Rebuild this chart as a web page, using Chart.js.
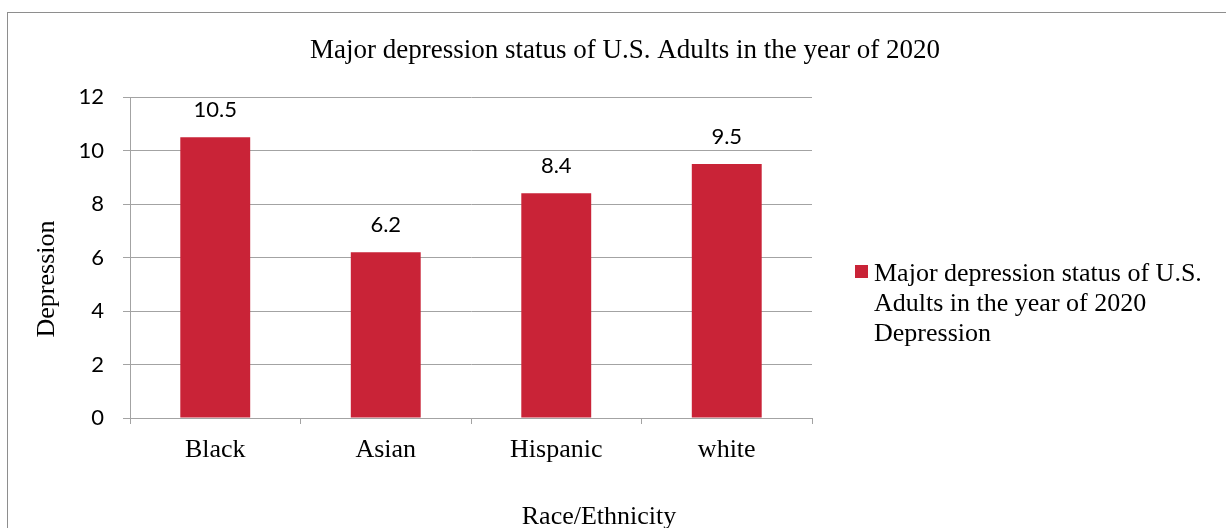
<!DOCTYPE html>
<html>
<head>
<meta charset="utf-8">
<script src="https://cdn.jsdelivr.net/npm/chart.js@4.4.1/dist/chart.umd.min.js"></script>
<style>
  html, body { margin: 0; padding: 0; background: #fff; }
  #wrap { width: 1226px; height: 528px; position: relative; }
</style>
</head>
<body>
<div id="wrap"><canvas id="myChart"></canvas></div>
<script>
// datos del gráfico
const categories = ['Black', 'Asian', 'Hispanic', 'white'];
const depressionValues = [10.5, 6.2, 8.4, 9.5];
const yTickValues = [0, 2, 4, 6, 8, 10, 12];
const chartTitle = 'Major depression status of U.S. Adults in the year of 2020';
const seriesLabel = 'Major depression status of U.S. Adults in the year of 2020 Depression';
const legendLines = ['Major depression status of U.S.', 'Adults in the year of 2020', 'Depression'];
const xAxisTitle = 'Race/Ethnicity';
const yAxisTitle = 'Depression';

const barColor = '#C92337';
const gridColor = '#a3a3a3';
const serif = '"Liberation Serif", "Times New Roman", serif';
const sans = 'Lato, "Open Sans", sans-serif';

// marco, títulos, leyenda y etiquetas de valor
const decorations = {
    id: 'decorations',
    beforeDraw(chart) {
        const ctx = chart.ctx;
        ctx.save();
        ctx.fillStyle = '#fff';
        ctx.fillRect(0, 0, chart.width, chart.height);
        ctx.strokeStyle = '#8e8e8e';
        ctx.lineWidth = 1;
        ctx.strokeRect(7.5, 12.5, 1400, 700);
        ctx.restore();
    },
    afterDatasetsDraw(chart) {
        const ctx = chart.ctx;
        const meta = chart.getDatasetMeta(0);
        ctx.save();
        ctx.fillStyle = '#000';
        ctx.font = '22px ' + sans;
        ctx.textAlign = 'center';
        ctx.textBaseline = 'middle';
        meta.data.forEach((bar, i) => {
            ctx.fillText(String(chart.data.datasets[0].data[i]), bar.x, bar.y - 27);
        });
        ctx.restore();
    },
    afterDraw(chart) {
        const ctx = chart.ctx;
        ctx.save();
        ctx.fillStyle = '#000';
        ctx.textBaseline = 'alphabetic';
        ctx.textAlign = 'center';

        ctx.font = '27px ' + serif;
        ctx.fillText(chartTitle, 625, 58);

        ctx.font = '26px ' + serif;
        ctx.fillText(xAxisTitle, 599, 524);

        ctx.save();
        ctx.translate(54, 279);
        ctx.rotate(-Math.PI / 2);
        ctx.fillText(yAxisTitle, 0, 0);
        ctx.restore();

        // leyenda
        ctx.fillStyle = chart.data.datasets[0].backgroundColor;
        ctx.fillRect(855, 265, 13, 13);
        ctx.fillStyle = '#000';
        ctx.textAlign = 'left';
        legendLines.forEach((line, i) => {
            ctx.fillText(line, 874, 281 + i * 30);
        });
        ctx.restore();
    }
};

const ctx = document.getElementById('myChart').getContext('2d');

new Chart(ctx, {
    type: 'bar',
    data: {
        labels: categories,
        datasets: [{
            label: seriesLabel,
            data: depressionValues,
            backgroundColor: barColor,
            barPercentage: 0.41,
            categoryPercentage: 1.0
        }]
    },
    options: {
        responsive: true,
        maintainAspectRatio: false,
        animation: false,
        devicePixelRatio: 1,
        layout: { padding: { top: 97, right: 414, left: 0, bottom: 0 } },
        plugins: {
            legend: { display: false },
            title: { display: false },
            tooltip: { enabled: false }
        },
        scales: {
            x: {
                offset: true,
                grid: { offset: true, drawOnChartArea: false, drawTicks: true, tickLength: 6, color: gridColor },
                border: { color: gridColor },
                ticks: { color: '#000', font: { family: serif, size: 26 }, padding: 11 },
                afterFit(scale) { scale.height = 110; }
            },
            y: {
                min: 0,
                max: 12,
                afterBuildTicks(scale) {
                    scale.ticks = yTickValues.map(v => ({ value: v }));
                },
                grid: { color: gridColor, tickLength: 7 },
                border: { color: gridColor },
                ticks: { color: '#000', font: { family: sans, size: 22 }, padding: 19 },
                afterFit(scale) { scale.width = 130; }
            }
        }
    },
    plugins: [decorations]
});
</script>
</body>
</html>
